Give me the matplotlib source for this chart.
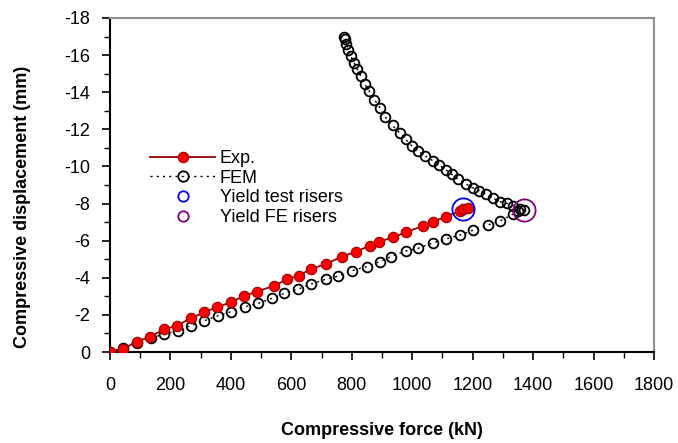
import matplotlib.pyplot as plt
from matplotlib.ticker import MultipleLocator

plt.rcParams['font.family'] = ['Liberation Sans', 'DejaVu Sans']
plt.rcParams['axes.unicode_minus'] = False

# Experimental test (force kN, displacement mm)
exp_force = [0, 42, 88, 132, 179, 221, 267, 312, 353, 400, 443, 485, 543, 587, 624,
             665, 714, 767, 813, 860, 889, 937, 978, 1037, 1068, 1111, 1158, 1169, 1184]
exp_disp = [0, -0.16, -0.55, -0.82, -1.22, -1.42, -1.81, -2.14, -2.41, -2.68, -3.02,
            -3.25, -3.57, -3.93, -4.11, -4.47, -4.74, -5.14, -5.40, -5.73, -5.94,
            -6.18, -6.45, -6.80, -7.02, -7.29, -7.61, -7.69, -7.74]

# FEM: loading branch then post-yield branch
fem_force = [0, 44, 88, 135, 179, 225, 267, 312, 356, 400, 447, 491, 535, 577, 623,
             665, 714, 755, 800, 849, 893, 929, 978, 1020, 1070, 1111, 1158, 1202,
             1250, 1291, 1335, 1351, 1370,
             1355, 1335, 1313, 1291, 1268, 1244, 1221, 1200, 1178, 1153, 1131, 1112,
             1090, 1068, 1042, 1020, 999, 978, 960, 935, 910, 893,
             875, 858, 843, 830, 818, 807, 797, 789, 782, 777, 774]
fem_disp = [0, -0.23, -0.47, -0.74, -0.97, -1.15, -1.42, -1.69, -1.94, -2.17, -2.44,
            -2.62, -2.89, -3.16, -3.39, -3.66, -3.92, -4.09, -4.38, -4.60, -4.87,
            -5.14, -5.44, -5.59, -5.89, -6.09, -6.30, -6.57, -6.84, -7.07, -7.44,
            -7.61, -7.65,
            -7.69, -7.89, -8.01, -8.10, -8.28, -8.51, -8.69, -8.85, -9.05, -9.31,
            -9.57, -9.81, -10.08, -10.31, -10.58, -10.83, -11.10, -11.46, -11.78,
            -12.21, -12.68, -13.16,
            -13.60, -14.05, -14.45, -14.85, -15.25, -15.60, -15.95, -16.30, -16.60,
            -16.85, -16.95]

yield_test = (1169, -7.69)
yield_fe = (1370, -7.65)

fig = plt.figure(figsize=(6.78, 4.43), dpi=100)
ax = fig.add_axes([0.1622, 0.2054, 0.8024, 0.754])

ax.plot(exp_force, exp_disp, color='#990000', lw=1.3, marker='o', ms=7.5,
        mfc='#ff0000', mec='#990000', mew=0.8, label='Exp.', zorder=3)
ax.plot(fem_force, fem_disp, color='black', lw=1.0, ls=(0, (1.5, 3)), marker='o',
        ms=7, mfc='none', mec='black', mew=1.3, label='FEM', zorder=2)
ax.plot(*yield_test, ls='none', marker='o', ms=16, mfc='none', mec='#0000ff',
        mew=1.3, label='Yield test risers', zorder=4)
ax.plot(*yield_fe, ls='none', marker='o', ms=16, mfc='none', mec='#800080',
        mew=1.3, label='Yield FE risers', zorder=4)

ax.set_xlim(0, 1800)
ax.set_ylim(0, -18)
ax.xaxis.set_major_locator(MultipleLocator(200))
ax.xaxis.set_minor_locator(MultipleLocator(100))
ax.yaxis.set_major_locator(MultipleLocator(2))
ax.yaxis.set_minor_locator(MultipleLocator(1))
ax.tick_params(which='major', direction='out', length=6, width=1.2, labelsize=13)
ax.tick_params(which='minor', direction='out', length=4, width=1.0)
ax.tick_params(axis='x', which='major', pad=12)
ax.tick_params(axis='y', which='major', pad=8)

for side in ['left', 'bottom']:
    ax.spines[side].set_linewidth(1.5)
    ax.spines[side].set_color('black')
for side in ['top', 'right']:
    ax.spines[side].set_linewidth(1.5)
    ax.spines[side].set_color('#909090')

ax.set_xlabel('Compressive force (kN)', fontsize=13, fontweight='bold', labelpad=20)
ax.set_ylabel('Compressive displacement (mm)', fontsize=13, fontweight='bold')
ax.yaxis.set_label_coords(-0.145, 0.434)

leg = ax.legend(loc='upper left', bbox_to_anchor=(150 / 678, 1 - 150 / 443),
                bbox_transform=fig.transFigure, frameon=False, fontsize=13,
                handlelength=3.6, handletextpad=0.25, labelspacing=0.15,
                borderpad=0, borderaxespad=0)
for h in leg.legend_handles:
    h.set_markersize(7.5)

fig.savefig('out.png', dpi=100)
